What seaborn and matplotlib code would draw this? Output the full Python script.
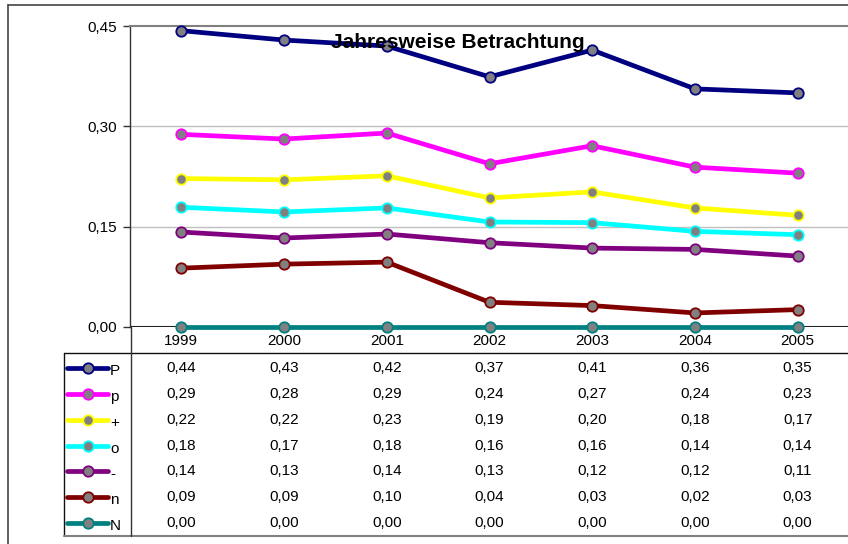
import numpy as np
import pandas as pd
import matplotlib
matplotlib.use("Agg")
import matplotlib.pyplot as plt
import matplotlib.transforms as mtransforms
from matplotlib.ticker import FuncFormatter
import seaborn as sns

# -----------------------------
# STYLE
# -----------------------------
sns.set_style("white")
plt.rcParams["font.family"] = ["Liberation Sans", "DejaVu Sans"]
plt.rcParams["text.color"] = "black"
plt.rcParams["xtick.color"] = "black"
plt.rcParams["ytick.color"] = "black"

# -----------------------------
# DATA
# -----------------------------
years = ["1999", "2000", "2001", "2002", "2003", "2004", "2005"]
series_names = ["P", "p", "+", "o", "-", "n", "N"]
P_vals = [0.443, 0.429, 0.420, 0.374, 0.414, 0.356, 0.350]
p_vals = [0.288, 0.281, 0.290, 0.244, 0.271, 0.239, 0.230]
plus_vals = [0.222, 0.220, 0.226, 0.193, 0.202, 0.178, 0.167]
o_vals = [0.179, 0.172, 0.178, 0.157, 0.156, 0.143, 0.138]
minus_vals = [0.142, 0.133, 0.139, 0.126, 0.118, 0.116, 0.106]
n_vals = [0.088, 0.094, 0.097, 0.037, 0.032, 0.021, 0.026]
N_vals = [0.0, 0.0, 0.0, 0.0, 0.0, 0.0, 0.0]
all_vals = [P_vals, p_vals, plus_vals, o_vals, minus_vals, n_vals, N_vals]
colors = ["#000080", "#FF00FF", "#FFFF00", "#00FFFF", "#800080", "#800000", "#008080"]
y_ticks = [0.0, 0.15, 0.30, 0.45]

W, H = 848, 544
FS = 11


def de(v):
    return f"{v:.2f}".replace(".", ",")


# -----------------------------
# FIGURE
# -----------------------------
fig = plt.figure(figsize=(W / 100, H / 100), dpi=100)

# background layer in pixel coordinates (frame + table grid)
bg = fig.add_axes([0, 0, 1, 1])
bg.set_xlim(0, W)
bg.set_ylim(H, 0)
bg.axis("off")

ax = fig.add_axes([130 / W, (H - 327) / H, (849 - 130) / W, 301 / H])
ax.set_facecolor("none")

for name, vals, c in zip(series_names, all_vals, colors):
    sns.lineplot(x=years, y=vals, ax=ax, color=c, linewidth=3.4, marker="o",
                 markersize=7.5, markerfacecolor="#808080", markeredgecolor=c,
                 markeredgewidth=1.3, clip_on=False, zorder=3)

ax.set_xlim(-0.5, len(years) - 0.5)
ax.set_ylim(0, 0.45)
ax.set_yticks(y_ticks)
ax.yaxis.set_major_formatter(FuncFormatter(lambda v, pos: de(v)))
ax.tick_params(axis="y", direction="out", length=5, width=1, color="#333333",
               labelsize=FS, pad=4, left=True)
ax.tick_params(axis="x", length=0, labelsize=FS, pad=5)
ax.set_xlabel("")
ax.set_ylabel("")

for v in y_ticks[1:-1]:
    ax.axhline(v, color="#c0c0c0", linewidth=1, zorder=1)
ax.axhline(0, color="#222222", linewidth=1.5, zorder=2)

for s in ["right", "bottom"]:
    ax.spines[s].set_visible(False)
ax.spines["top"].set_color("#808080")
ax.spines["top"].set_linewidth(1.5)
ax.spines["left"].set_color("#333333")
ax.spines["left"].set_linewidth(1)

fig.text(458 / W, 1 - 43 / H, "Jahresweise Betrachtung", ha="center",
         va="center", fontsize=15, fontweight="bold")

# -----------------------------
# FRAME + TABLE LINES
# -----------------------------
bg.plot([8, 8], [5, H], color="#444444", lw=1.2)
bg.plot([8, W], [5, 5], color="#444444", lw=1.2)
bg.plot([64, W], [353, 353], color="#111111", lw=1)
bg.plot([64, 64], [353, 536], color="#111111", lw=1)
bg.plot([64, W], [536, 536], color="#808080", lw=1.5)
bg.plot([130.5, 130.5], [327, 536], color="#333333", lw=1)

# -----------------------------
# DATA TABLE
# -----------------------------
trans = mtransforms.blended_transform_factory(ax.transData, bg.transData)
row_y = [368, 394, 420, 446, 471, 497, 523]
for name, vals, c, ry in zip(series_names, all_vals, colors, row_y):
    bg.plot([67, 108], [ry, ry], color=c, lw=3.4, solid_capstyle="round")
    bg.plot([87.5], [ry], marker="o", markersize=7.5, markerfacecolor="#808080",
            markeredgecolor=c, markeredgewidth=1.3)
    bg.text(110, ry + 3, name, ha="left", va="center", fontsize=FS)
    for i, v in enumerate(vals):
        bg.text(i, ry, de(v), transform=trans, ha="center", va="center",
                fontsize=FS)

plt.savefig("out.png", dpi=100)
